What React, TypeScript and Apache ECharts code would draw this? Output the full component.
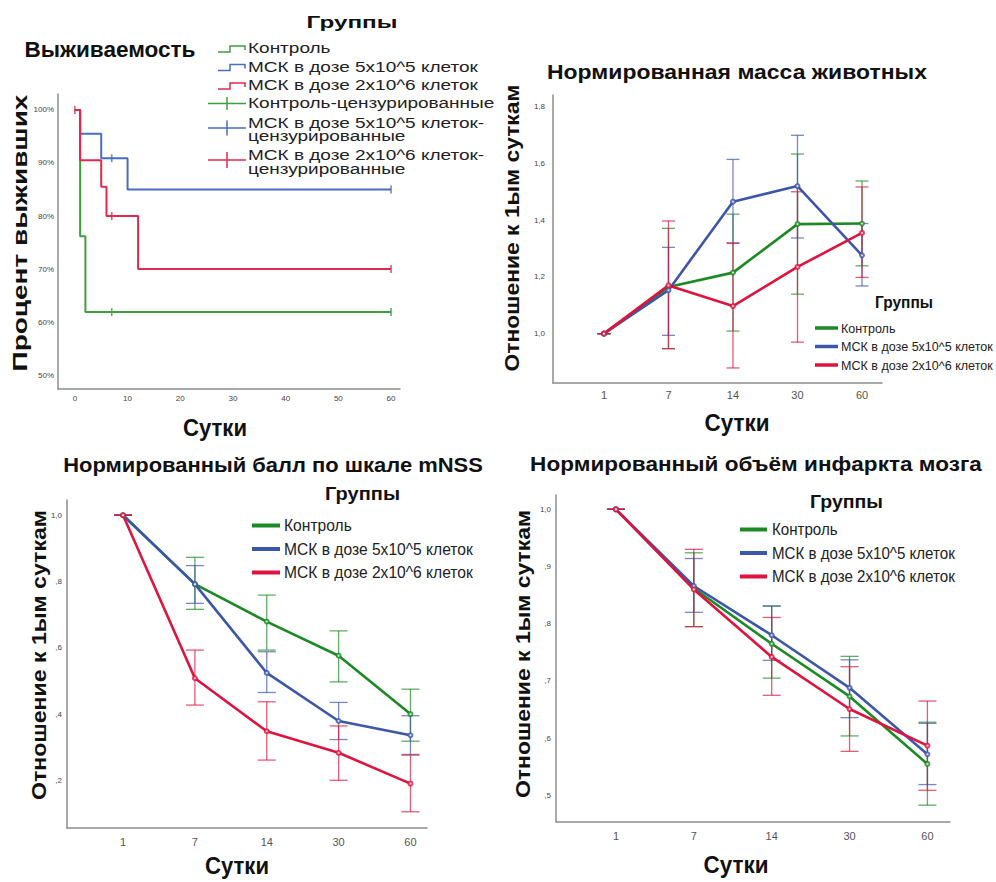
import React, { useEffect, useRef } from "react";
import * as echarts from "echarts";

const FONT = '"Liberation Sans", Arial, sans-serif';

const groupNames = ["Контроль", "МСК в дозе 5x10^5 клеток", "МСК в дозе 2x10^6 клеток"];
const censorNames = ["Контроль-цензурированные", "МСК в дозе 5x10^5 клеток-", "МСК в дозе 2x10^6 клеток-", "цензурированные"];

// Survival (Kaplan-Meier)
const survXTicks = [0, 10, 20, 30, 40, 50, 60];
const survYTicks = [50, 60, 70, 80, 90, 100];
const survGreenT = [0, 1, 2, 60];
const survGreenV = [100, 76.2, 61.9, 61.9];
const survBlueT = [0, 1, 5, 10, 60];
const survBlueV = [100, 95.5, 90.9, 85, 85];
const survRedT = [0, 1, 5, 6, 12, 60];
const survRedV = [100, 90.5, 85.5, 80, 70, 70];
const censGreenT = [7, 60];
const censGreenV = [61.9, 61.9];
const censBlueT = [7, 60];
const censBlueV = [90.9, 85];
const censRedT = [0, 7, 60];
const censRedV = [100, 80, 70];

// Days
const dayLabels = ["1", "7", "14", "30", "60"];
const dayIdx = [0, 1, 2, 3, 4];

// Normalized mass
const massYTicks = [1.0, 1.2, 1.4, 1.6, 1.8];
const massGreen = [1.0, 1.164, 1.215, 1.386, 1.388];
const massGreenLo = [1.0, 0.947, 1.009, 1.139, 1.239];
const massGreenHi = [1.0, 1.371, 1.421, 1.633, 1.538];
const massBlue = [1.0, 1.153, 1.465, 1.52, 1.276];
const massBlueLo = [1.0, 0.994, 1.318, 1.337, 1.168];
const massBlueHi = [1.0, 1.304, 1.614, 1.699, 1.388];
const massRed = [1.0, 1.17, 1.097, 1.235, 1.355];
const massRedLo = [1.0, 0.947, 0.879, 0.97, 1.198];
const massRedHi = [1.0, 1.397, 1.32, 1.5, 1.517];

// Normalized mNSS
const mnssYTicks = [0.2, 0.4, 0.6, 0.8, 1.0];
const mnssGreen = [1.0, 0.792, 0.679, 0.576, 0.4];
const mnssGreenLo = [1.0, 0.716, 0.593, 0.497, 0.318];
const mnssGreenHi = [1.0, 0.873, 0.759, 0.651, 0.475];
const mnssBlue = [1.0, 0.792, 0.524, 0.379, 0.336];
const mnssBlueLo = [1.0, 0.734, 0.465, 0.323, 0.278];
const mnssBlueHi = [1.0, 0.848, 0.588, 0.435, 0.395];
const mnssRed = [1.0, 0.508, 0.348, 0.283, 0.19];
const mnssRedLo = [1.0, 0.427, 0.261, 0.2, 0.105];
const mnssRedHi = [1.0, 0.593, 0.437, 0.364, 0.276];

// Normalized infarct volume
const infYTicks = [0.5, 0.6, 0.7, 0.8, 0.9, 1.0];
const infGreen = [1.0, 0.862, 0.765, 0.673, 0.555];
const infGreenLo = [1.0, 0.795, 0.705, 0.604, 0.483];
const infGreenHi = [1.0, 0.924, 0.831, 0.743, 0.628];
const infBlue = [1.0, 0.866, 0.78, 0.688, 0.572];
const infBlueLo = [1.0, 0.82, 0.736, 0.636, 0.519];
const infBlueHi = [1.0, 0.914, 0.831, 0.737, 0.626];
const infRed = [1.0, 0.86, 0.742, 0.651, 0.587];
const infRedLo = [1.0, 0.795, 0.675, 0.577, 0.509];
const infRedHi = [1.0, 0.93, 0.811, 0.725, 0.665];

const C_GREEN = "#1c8a24";
const C_BLUE = "#3d57a8";
const C_RED = "#e0123e";
const S_GREEN = "#3f9e3f";
const S_BLUE = "#4a6cc4";
const S_RED = "#e3284f";

let measureCtx: CanvasRenderingContext2D | null = null;
function measure(text: string, size: number, bold: boolean) {
  if (!measureCtx) measureCtx = document.createElement("canvas").getContext("2d");
  measureCtx!.font = `${bold ? "bold " : ""}${size}px ${FONT}`;
  return measureCtx!.measureText(text).width;
}

function txt(text: string, x: number, y: number, size: number, bold: boolean, opts: any = {}) {
  const align = opts.align || "center";
  let scaleX = 1;
  if (opts.width) scaleX = opts.width / measure(text, size, bold);
  if (opts.scale) scaleX = opts.scale;
  return {
    type: "text",
    x,
    y,
    rotation: opts.rotation || 0,
    scaleX,
    silent: true,
    style: {
      text,
      fontSize: size,
      fontWeight: bold ? "bold" : "normal",
      fontFamily: FONT,
      fill: opts.color || "#111",
      align,
      verticalAlign: "middle",
      textAlign: align,
      textVerticalAlign: "middle",
    },
  };
}

function pairs(xs: number[], ys: number[]) {
  return xs.map((x, i) => [x, ys[i]]);
}

function errSeries(ai: number, lo: number[], hi: number[], color: string, hw: number) {
  return {
    type: "custom",
    xAxisIndex: ai,
    yAxisIndex: ai,
    silent: true,
    z: 2,
    encode: { x: 0, y: [1, 2] },
    data: dayIdx.map((d, i) => [d, lo[i], hi[i]]),
    renderItem: (params: any, api: any) => {
      const x = api.value(0);
      const a = api.coord([x, api.value(1)]);
      const b = api.coord([x, api.value(2)]);
      const st = { stroke: color, lineWidth: 1.3, opacity: 0.7 };
      return {
        type: "group",
        children: [
          { type: "line", shape: { x1: a[0], y1: a[1], x2: b[0], y2: b[1] }, style: st },
          { type: "line", shape: { x1: a[0] - hw, y1: a[1], x2: a[0] + hw, y2: a[1] }, style: st },
          { type: "line", shape: { x1: b[0] - hw, y1: b[1], x2: b[0] + hw, y2: b[1] }, style: st },
        ],
      };
    },
  };
}

function meanSeries(ai: number, vals: number[], color: string, name: string) {
  return {
    type: "line",
    name,
    xAxisIndex: ai,
    yAxisIndex: ai,
    z: 3,
    data: pairs(dayIdx, vals),
    symbol: "emptyCircle",
    symbolSize: 4,
    lineStyle: { width: 2.6, color },
    itemStyle: { color, borderWidth: 1, opacity: 0.8 },
  };
}

const axisLine = { show: true, onZero: false, lineStyle: { color: "#8c8c8c", width: 1.5 } };

function decFmt(v: number) {
  const s = v.toFixed(1).replace(".", ",");
  return s.startsWith("0") ? s.slice(1) : s;
}

function dayX(ai: number, min: number, max: number, margin: number) {
  return {
    gridIndex: ai,
    type: "value",
    min,
    max,
    axisLine,
    axisTick: { show: false },
    splitLine: { show: false },
    axisLabel: {
      customValues: dayIdx,
      formatter: (v: number) => dayLabels[Math.round(v)],
      fontSize: 11,
      color: "#555",
      margin,
      fontFamily: FONT,
    },
  };
}

function decY(ai: number, min: number, max: number, ticks: number[], margin: number) {
  return {
    gridIndex: ai,
    type: "value",
    min,
    max,
    axisLine,
    axisTick: { show: false },
    splitLine: { show: false },
    axisLabel: {
      customValues: ticks,
      formatter: (v: number) => decFmt(v),
      fontSize: 8,
      color: "#444",
      margin,
      fontFamily: FONT,
    },
  };
}

function lineLegend(x0: number, x1: number, tx: number, ys: number[], size: number, width: number, lw: number) {
  const colors = [C_GREEN, C_BLUE, C_RED];
  const scale = width / measure(groupNames[1], size, false);
  const els: any[] = [];
  ys.forEach((y, i) => {
    els.push({ type: "line", silent: true, shape: { x1: x0, y1: y, x2: x1, y2: y }, style: { stroke: colors[i], lineWidth: lw } });
    els.push(txt(groupNames[i], tx, y, size, false, { align: "left", scale, color: "#222" }));
  });
  return els;
}

function buildGraphics() {
  const g: any[] = [];
  // Panel 1
  g.push(txt("Выживаемость", 110, 50, 22, true, { width: 171 }));
  g.push(txt("Группы", 352, 22, 17, true, { width: 91 }));
  const ls = 15;
  const lscale = 230 / measure(groupNames[1], ls, false);
  const lx = 248;
  const rowsText: [string, number][] = [
    [groupNames[0], 48],
    [groupNames[1], 67],
    [groupNames[2], 85.5],
    [censorNames[0], 103.5],
    [censorNames[1], 122.7],
    [censorNames[3], 136.5],
    [censorNames[2], 155],
    [censorNames[3], 169],
  ];
  rowsText.forEach(([t, y]) => g.push(txt(t, lx, y, ls, false, { align: "left", scale: lscale, color: "#222" })));
  const stepIcon = (yb: number, color: string) => ({
    type: "polyline",
    silent: true,
    shape: { points: [[218, yb], [230, yb], [230, yb - 6], [245, yb - 6], [245, yb - 2]] },
    style: { stroke: color, lineWidth: 1.5, fill: null },
  });
  g.push(stepIcon(52, S_GREEN));
  g.push(stepIcon(70.5, S_BLUE));
  g.push(stepIcon(89, S_RED));
  const cross = (yc: number, color: string, h: number) => [
    { type: "line", silent: true, shape: { x1: 208, y1: yc, x2: 246, y2: yc }, style: { stroke: color, lineWidth: 1.5 } },
    { type: "line", silent: true, shape: { x1: 227, y1: yc - h, x2: 227, y2: yc + h }, style: { stroke: color, lineWidth: 1.5 } },
  ];
  g.push(...cross(103.5, S_GREEN, 6.5));
  g.push(...cross(128, S_BLUE, 7.5));
  g.push(...cross(160, S_RED, 8));
  g.push(txt("Процент выживших", 20, 233, 21, true, { width: 277, rotation: Math.PI / 2 }));
  g.push(txt("Сутки", 215, 428, 24, true, { width: 64 }));

  // Panel 2
  g.push(txt("Нормированная масса животных", 737, 72, 21, true, { width: 380 }));
  g.push(txt("Группы", 904, 302.7, 16, true, { width: 58 }));
  g.push(...lineLegend(815, 838, 841, [328, 346.5, 365], 13.5, 152, 3.5));
  g.push(txt("Отношение к 1ым суткам", 512, 228, 21, true, { width: 287, rotation: Math.PI / 2 }));
  g.push(txt("Сутки", 737, 423, 24, true, { width: 65 }));

  // Panel 3
  g.push(txt("Нормированный балл по шкале mNSS", 273, 465, 21, true, { width: 420 }));
  g.push(txt("Группы", 362.5, 493.5, 18, true, { width: 75 }));
  g.push(...lineLegend(252, 280, 284, [525.5, 549, 572.5], 16, 189, 4));
  g.push(txt("Отношение к 1ым суткам", 39, 655, 21, true, { width: 290, rotation: Math.PI / 2 }));
  g.push(txt("Сутки", 237, 866, 24, true, { width: 64 }));

  // Panel 4
  g.push(txt("Нормированный объём инфаркта мозга", 756, 464, 21, true, { width: 452 }));
  g.push(txt("Группы", 846.5, 502, 18, true, { width: 73 }));
  g.push(...lineLegend(740, 767, 772, [529.5, 553, 576.5], 16, 183, 4));
  g.push(txt("Отношение к 1ым суткам", 523, 654, 21, true, { width: 288, rotation: Math.PI / 2 }));
  g.push(txt("Сутки", 736, 865, 24, true, { width: 65 }));
  return g;
}

function buildOption() {
  return {
    animation: false,
    backgroundColor: "#ffffff",
    grid: [
      { left: 58, top: 94, width: 342, height: 295 },
      { left: 553, top: 95, width: 329, height: 288 },
      { left: 67, top: 500, width: 360, height: 328 },
      { left: 556, top: 495, width: 394, height: 327 },
    ],
    xAxis: [
      {
        gridIndex: 0,
        type: "value",
        min: -3.2,
        max: 61.7,
        axisLine,
        axisTick: { show: false },
        splitLine: { show: false },
        axisLabel: { customValues: survXTicks, fontSize: 8, color: "#444", margin: 5, fontFamily: FONT },
      },
      dayX(1, -0.79, 4.31, 6),
      dayX(2, -0.78, 4.23, 8),
      dayX(3, -0.77, 4.29, 8),
    ],
    yAxis: [
      {
        gridIndex: 0,
        type: "value",
        min: 47.4,
        max: 103,
        axisLine,
        axisTick: { show: false },
        splitLine: { show: false },
        axisLabel: { customValues: survYTicks, formatter: (v: number) => v + "%", fontSize: 8, color: "#444", margin: 4, fontFamily: FONT },
      },
      decY(1, 0.826, 1.841, massYTicks, 8),
      decY(2, 0.056, 1.046, mnssYTicks, 5),
      decY(3, 0.4536, 1.025, infYTicks, 5),
    ],
    series: [
      // Survival
      { type: "line", xAxisIndex: 0, yAxisIndex: 0, step: "end", symbol: "none", data: pairs(survGreenT, survGreenV), lineStyle: { color: S_GREEN, width: 2 }, z: 3 },
      { type: "line", xAxisIndex: 0, yAxisIndex: 0, step: "end", symbol: "none", data: pairs(survBlueT, survBlueV), lineStyle: { color: S_BLUE, width: 2 }, z: 3 },
      { type: "line", xAxisIndex: 0, yAxisIndex: 0, step: "end", symbol: "none", data: pairs(survRedT, survRedV), lineStyle: { color: S_RED, width: 2 }, z: 3 },
      { type: "scatter", xAxisIndex: 0, yAxisIndex: 0, symbol: "rect", symbolSize: [1.6, 8], data: pairs(censGreenT, censGreenV), itemStyle: { color: S_GREEN }, z: 4 },
      { type: "scatter", xAxisIndex: 0, yAxisIndex: 0, symbol: "rect", symbolSize: [1.6, 8], data: pairs(censBlueT, censBlueV), itemStyle: { color: S_BLUE }, z: 4 },
      { type: "scatter", xAxisIndex: 0, yAxisIndex: 0, symbol: "rect", symbolSize: [1.6, 8], data: pairs(censRedT, censRedV), itemStyle: { color: S_RED }, z: 4 },
      // Mass
      errSeries(1, massGreenLo, massGreenHi, C_GREEN, 6.5),
      errSeries(1, massBlueLo, massBlueHi, C_BLUE, 6.5),
      errSeries(1, massRedLo, massRedHi, C_RED, 6.5),
      meanSeries(1, massGreen, C_GREEN, groupNames[0]),
      meanSeries(1, massBlue, C_BLUE, groupNames[1]),
      meanSeries(1, massRed, C_RED, groupNames[2]),
      // mNSS
      errSeries(2, mnssGreenLo, mnssGreenHi, C_GREEN, 9),
      errSeries(2, mnssBlueLo, mnssBlueHi, C_BLUE, 9),
      errSeries(2, mnssRedLo, mnssRedHi, C_RED, 9),
      meanSeries(2, mnssGreen, C_GREEN, groupNames[0]),
      meanSeries(2, mnssBlue, C_BLUE, groupNames[1]),
      meanSeries(2, mnssRed, C_RED, groupNames[2]),
      // Infarct
      errSeries(3, infGreenLo, infGreenHi, C_GREEN, 9),
      errSeries(3, infBlueLo, infBlueHi, C_BLUE, 9),
      errSeries(3, infRedLo, infRedHi, C_RED, 9),
      meanSeries(3, infGreen, C_GREEN, groupNames[0]),
      meanSeries(3, infBlue, C_BLUE, groupNames[1]),
      meanSeries(3, infRed, C_RED, groupNames[2]),
    ],
    graphic: { elements: buildGraphics() },
  };
}

export default function App() {
  const ref = useRef<HTMLDivElement>(null);
  useEffect(() => {
    document.body.style.margin = "0";
    if (!ref.current) return;
    const chart = echarts.init(ref.current, undefined, { renderer: "svg" });
    chart.setOption(buildOption() as any);
    return () => chart.dispose();
  }, []);
  return <div ref={ref} style={{ width: 996, height: 882 }} />;
}
